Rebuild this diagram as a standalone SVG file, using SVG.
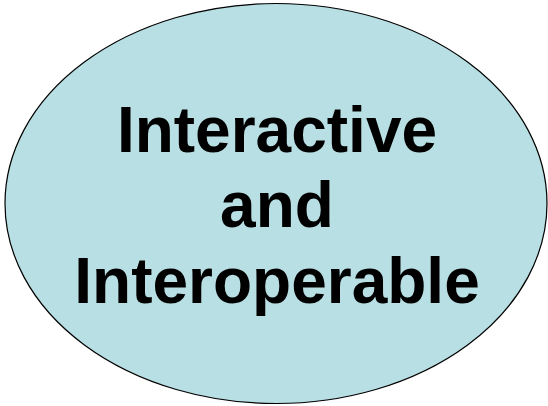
<svg xmlns="http://www.w3.org/2000/svg" width="548" height="406" viewBox="0 0 548 406">
  <style>
    .bubble { fill: #B8DFE3; stroke: #000; stroke-width: 1.2; }
    .label { font-family: "Liberation Sans", Arial, sans-serif; font-weight: bold; font-size: 64px; fill: #000; text-anchor: middle; }
  </style>
  <rect width="548" height="406" fill="#fff"/>
  <g id="node-interactive-interoperable">
    <ellipse class="bubble" cx="276" cy="203.5" rx="271" ry="200"/>
    <text class="label" x="277" y="152">Interactive</text>
    <text class="label" x="277" y="227">and</text>
    <text class="label" x="277" y="303">Interoperable</text>
  </g>
</svg>
